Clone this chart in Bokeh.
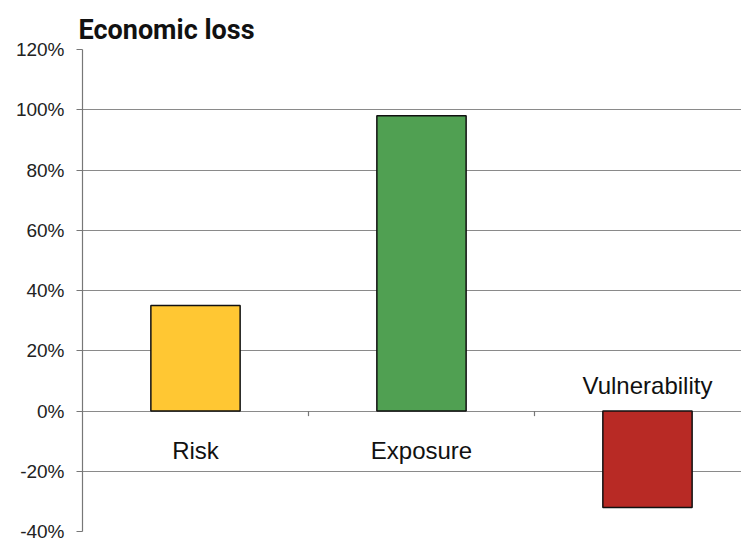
from bokeh.plotting import figure
from bokeh.models import Range1d, FixedTicker, PrintfTickFormatter, ColumnDataSource
from bokeh.core.properties import value
from bokeh.embed import file_html
from bokeh.resources import INLINE

categories = ["Risk", "Exposure", "Vulnerability"]
values = [35, 98, -32]
colors = ["#FFC733", "#50A052", "#B82A25"]
y_ticks = [-40, -20, 0, 20, 40, 60, 80, 100, 120]

xs = [i + 0.5 for i in range(len(categories))]
label_y = [-13 if v >= 0 else 8.3 for v in values]

src = ColumnDataSource(dict(x=xs, top=values, color=colors, cat=categories, ly=label_y))

p = figure(width=741, height=543, output_backend="svg", toolbar_location=None,
           x_range=Range1d(0, 2.916), y_range=Range1d(-40, 120),
           x_axis_location=None, min_border_left=82, min_border_right=0,
           min_border_bottom=12, min_border_top=49,
           title="Economic loss")
p.outline_line_color = None
p.xgrid.visible = False
p.ygrid.grid_line_color = "#8a8a8a"
p.ygrid.grid_line_width = 1.2

p.title.text_font = "Roboto"
p.title.text_font_style = "bold"
p.title.text_font_size = "27px"
p.title.text_color = "#111111"
p.title.align = "left"
p.title.offset = -4
p.title.standoff = 8

ax = p.yaxis[0]
ax.ticker = FixedTicker(ticks=y_ticks)
ax.formatter = PrintfTickFormatter(format="%d%%")
ax.major_label_text_font = "Liberation Sans"
ax.major_label_text_font_size = "19px"
ax.major_label_text_color = "#222222"
ax.axis_line_color = "#777777"
ax.axis_line_width = 1.2
ax.major_tick_line_color = "#777777"
ax.major_tick_out = 6
ax.major_tick_in = 0
ax.minor_tick_line_color = None
ax.major_label_standoff = 12

p.vbar(x="x", top="top", bottom=0, width=0.395, fill_color="color",
       line_color="#111111", line_width=1.5, source=src)

seps = list(range(1, len(categories)))
p.segment(x0=seps, x1=seps, y0=[0] * len(seps), y1=[-1.7] * len(seps),
          line_color="#777777", line_width=1.2)

p.text(x="x", y="ly", text="cat", source=src, text_align="center",
       text_baseline="middle", text_font=value("Liberation Sans"),
       text_font_size="24px", text_color="#111111")

open("out.html", "w").write(file_html(p, INLINE))
